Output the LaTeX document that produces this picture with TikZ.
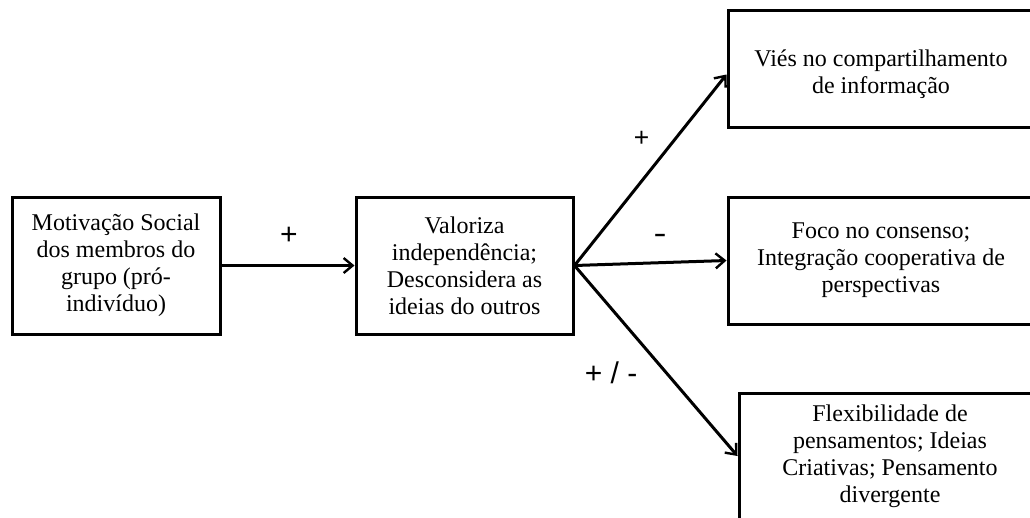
\documentclass[tikz,border=0pt]{standalone}
\usepackage{fontspec}
\setmainfont{Liberation Serif}
\newfontfamily\labelfont{Liberation Sans}
\usetikzlibrary{arrows.meta,calc}
\begin{document}
\begin{tikzpicture}[x=1pt,y=-1pt,
  box/.style={draw=black,line width=3pt,fill=white,align=center,inner sep=0pt,
    font=\fontsize{24}{27}\selectfont},
  link/.style={line width=3pt,-{Straight Barb[length=9pt,width=15pt,line width=2.4pt]}},
  sign/.style={font=\labelfont\fontsize{30}{32}\selectfont,inner sep=0pt}]
\clip (0,0) rectangle (1030,517);
\fill[white] (0,0) rectangle (1030,517);

% boxes
\node[box,minimum width=208pt,minimum height=137pt] (A) at (116,265.5)
  {Motivação Social\\dos membros do\\grupo (pró-\\indivíduo)};
\node[box,minimum width=217pt,minimum height=137pt] (B) at (464.5,265.5)
  {Valoriza\\independência;\\Desconsidera as\\ideias do outros};
\node[box,minimum width=306pt,minimum height=117pt] (C) at (881,68.5)
  {\rule{0pt}{28pt}Viés no compartilhamento\\de informação};
\node[box,minimum width=306pt,minimum height=127pt] (D) at (881,260.5)
  {Foco no consenso;\\Integração cooperativa de\\perspectivas};
\node[box,minimum width=302pt,minimum height=126pt] (E) at (890,456)
  {Flexibilidade de\\pensamentos; Ideias\\Criativas; Pensamento\\divergente};

% connectors
\draw[link] (A.east) -- (B.west);
\draw[link] (B.east) -- ($(C.south west)!0.45!(C.north west)$);
\draw[link] (B.east) -- (D.west);
\draw[link] (B.east) -- (E.west);

% signs
\node[sign] (s1) at (289,235.5) {+};
\node[sign,scale=0.88] (s2) at (641.5,139) {+};
\node[sign,xscale=1.3,transform shape] (s3) at (660,239) {-};
\node[sign] (s4) at (611,373) {+ / -};
\end{tikzpicture}
\end{document}
